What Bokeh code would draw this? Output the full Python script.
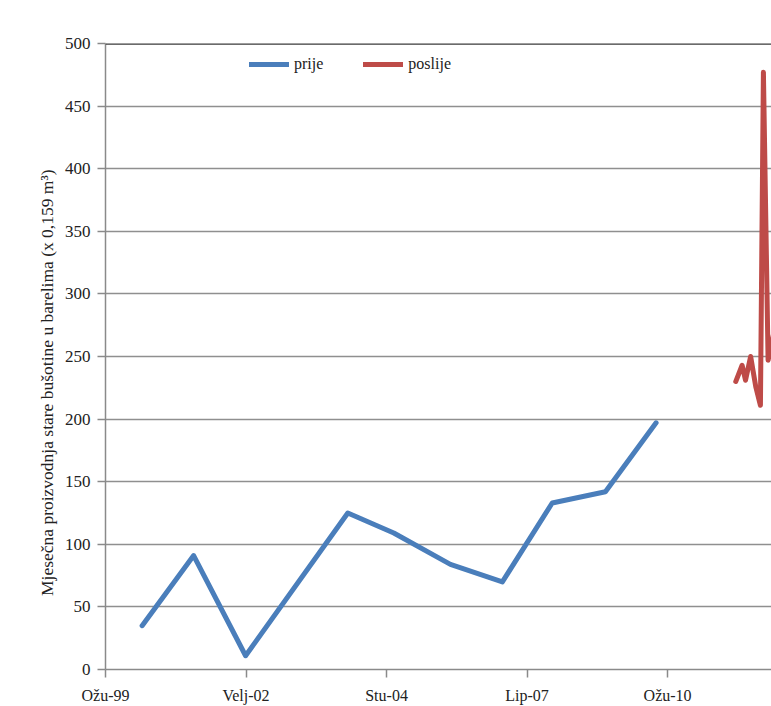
from bokeh.plotting import figure
from bokeh.models import FixedTicker, Span, Legend, LegendItem
from bokeh.embed import file_html
from bokeh.resources import INLINE

# x values: months counted from Ožu-99 (March 1999)
prije_months = [8.6, 20.7, 32.9, 56.9, 67.7, 81.0, 93.2, 104.9, 117.4, 129.3]
prije_values = [35, 91, 11, 125, 109, 84, 70, 133, 142, 197]
poslije_months = [148.0, 149.5, 150.3, 151.5, 152.7, 153.8, 154.5, 155.6, 157.0]
poslije_values = [230, 243, 231, 250, 226, 211, 477, 247, 270]
tick_months = [0, 33, 66, 99, 132]
tick_labels = ["Ožu-99", "Velj-02", "Stu-04", "Lip-07", "Ožu-10"]
y_ticks = list(range(0, 501, 50))
y_title = "Mjesečna proizvodnja stare bušotine u barelima (x 0,159 m³)"

FONT = "Liberation Serif"

p = figure(width=771, height=706, x_range=(0, 156.4), y_range=(0, 500),
           output_backend="svg", toolbar_location=None,
           min_border_left=105, min_border_top=43, min_border_right=0,
           min_border_bottom=36)
p.background_fill_color = "white"
p.border_fill_color = "white"
p.outline_line_color = None

# axes
p.xaxis.ticker = FixedTicker(ticks=tick_months)
p.xaxis.major_label_overrides = {m: l for m, l in zip(tick_months, tick_labels)}
p.yaxis.ticker = FixedTicker(ticks=y_ticks)
for ax in (p.xaxis, p.yaxis):
    ax.axis_line_color = "#8a8a8a"
    ax.axis_line_width = 1.5
    ax.major_tick_line_color = "#8a8a8a"
    ax.major_tick_line_width = 1.5
    ax.major_tick_out = 8
    ax.major_tick_in = 0
    ax.minor_tick_line_color = None
    ax.major_label_text_font = FONT
    ax.major_label_text_color = "#222222"
p.xaxis.major_label_text_font_size = "16px"
p.xaxis.major_label_standoff = 9
p.yaxis.major_label_text_font_size = "17px"
p.yaxis.major_label_standoff = 7
# trailing no-break spaces shift the visible title downwards, as in the original
p.yaxis.axis_label = y_title + "\u00a0" * 12
p.yaxis.axis_label_text_font = FONT
p.yaxis.axis_label_text_font_style = "normal"
p.yaxis.axis_label_text_font_size = "17.5px"
p.yaxis.axis_label_text_color = "#222222"
p.yaxis.axis_label_standoff = 5

p.xgrid.grid_line_color = None
p.ygrid.grid_line_color = "#8f8f8f"
p.ygrid.grid_line_width = 1.5

p.add_layout(Span(location=500, dimension="width", line_color="#3a3a3a", line_width=2.5))

r1 = p.line(prije_months, prije_values, line_color="#4A7EBB", line_width=5,
            line_join="round", line_cap="round")
r2 = p.line(poslije_months, poslije_values, line_color="#BE4B48", line_width=5,
            line_join="round", line_cap="round")

legend = Legend(items=[LegendItem(label="prije", renderers=[r1]),
                       LegendItem(label="poslije", renderers=[r2])],
                orientation="horizontal", location=(144, 595),
                border_line_color=None, background_fill_alpha=0,
                padding=0, margin=0, spacing=40,
                glyph_width=40, glyph_height=20, label_height=20,
                label_standoff=5, label_text_font=FONT,
                label_text_font_size="16px", label_text_color="#222222")
p.add_layout(legend)

open("out.html", "w").write(file_html(p, INLINE))
